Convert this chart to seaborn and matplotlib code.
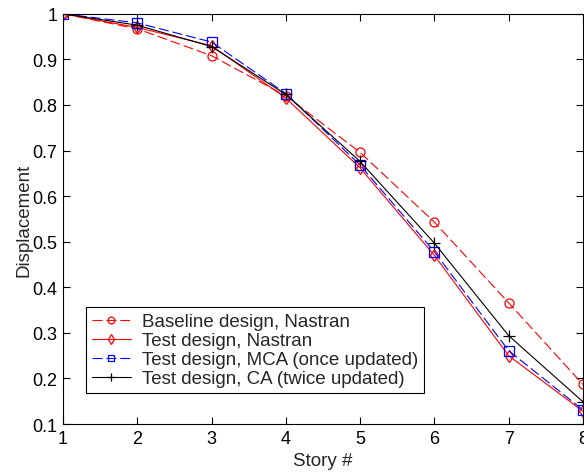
import matplotlib
matplotlib.use("Agg")
import matplotlib.pyplot as plt
import seaborn as sns
import pandas as pd

stories = [1, 2, 3, 4, 5, 6, 7, 8]
baseline_nastran = [1.0, 0.967, 0.908, 0.820, 0.696, 0.543, 0.366, 0.187]
test_nastran = [1.0, 0.970, 0.930, 0.815, 0.662, 0.470, 0.250, 0.128]
test_mca = [1.0, 0.980, 0.938, 0.825, 0.668, 0.478, 0.261, 0.131]
test_ca = [1.0, 0.975, 0.928, 0.823, 0.676, 0.497, 0.294, 0.149]

labels = ["Baseline design, Nastran", "Test design, Nastran",
          "Test design, MCA (once updated)", "Test design, CA (twice updated)"]
series = [baseline_nastran, test_nastran, test_mca, test_ca]
colors = ["#ff0000", "#ff0000", "#0000ff", "#000000"]
markers = ["o", "d", "s", "+"]
dashed = [True, False, True, False]
msizes = [6.5, 6.5, 6.5, 8]

sns.set_theme(style="white")
plt.rcParams["font.family"] = ["Liberation Sans", "DejaVu Sans"]

fig = plt.figure(figsize=(5.84, 4.77), dpi=100)
ax = fig.add_axes([0.108, 0.109, 0.890, 0.860])

for lab, vals, c, m, d, ms in zip(labels, series, colors, markers, dashed, msizes):
    df = pd.DataFrame({"Story": stories, "Disp": vals})
    sns.lineplot(data=df, x="Story", y="Disp", ax=ax, color=c, marker=m,
                 markersize=ms, linewidth=0.8, label=lab,
                 markerfacecolor="none", markeredgecolor=c, markeredgewidth=0.9,
                 linestyle=(0, (9, 3.5)) if d else "-")

ax.set_xlim(1, 8)
ax.set_ylim(0.1, 1.0)
ax.set_xticks(stories)
ax.set_xticklabels([str(s) for s in stories])
yt = [0.1, 0.2, 0.3, 0.4, 0.5, 0.6, 0.7, 0.8, 0.9, 1.0]
ax.set_yticks(yt)
ax.set_yticklabels(["0.1", "0.2", "0.3", "0.4", "0.5", "0.6", "0.7", "0.8", "0.9", "1"])
ax.tick_params(direction="in", length=5, width=0.8, top=True, right=True,
               bottom=True, left=True, labelsize=13, colors="#000000", pad=4)
for sp in ax.spines.values():
    sp.set_visible(True)
    sp.set_color("#000000")
    sp.set_linewidth(0.8)
ax.set_xlabel("Story #", fontsize=13.5, labelpad=4)
ax.set_ylabel("Displacement", fontsize=13.5, labelpad=0)

leg = ax.legend(loc="lower left", bbox_to_anchor=(0.044, 0.076), fontsize=13.5,
                frameon=True, fancybox=False, edgecolor="#000000", framealpha=1,
                handlelength=2.1, handletextpad=0.6, borderpad=0.3,
                labelspacing=0.1, borderaxespad=0, markerscale=0.75)
leg.get_frame().set_linewidth(0.8)

fig.savefig("out.png", dpi=100)
